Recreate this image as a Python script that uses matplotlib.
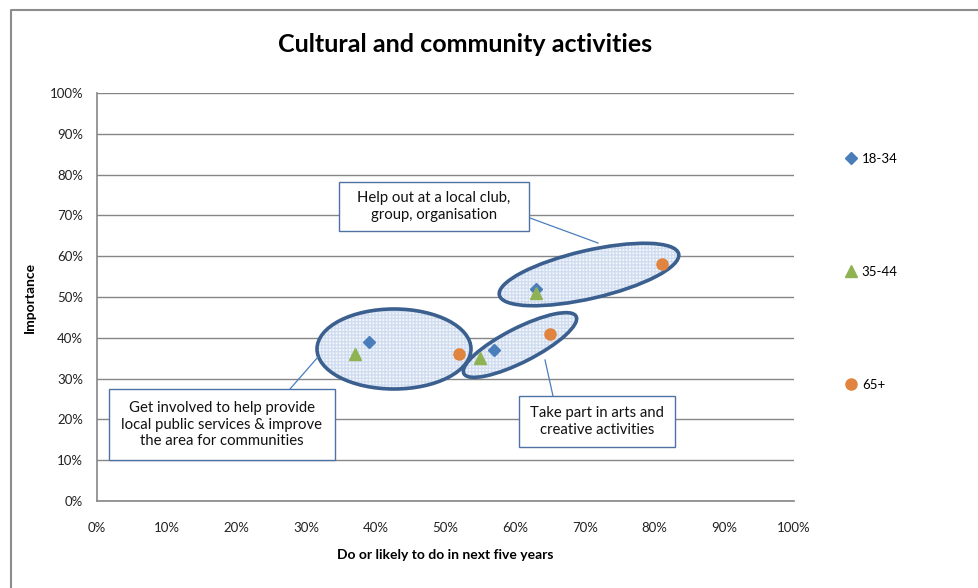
import matplotlib
matplotlib.use("Agg")
import matplotlib.pyplot as plt
from matplotlib import transforms
from matplotlib.patches import Ellipse, Rectangle
from matplotlib.lines import Line2D
from matplotlib.ticker import PercentFormatter

plt.rcParams['font.family'] = ['Lato', 'DejaVu Sans']

# data (fractions)
series_names = ['18-34', '35-44', '65+']
x_18_34 = [0.39, 0.57, 0.63]
y_18_34 = [0.39, 0.37, 0.52]
x_35_44 = [0.37, 0.55, 0.63]
y_35_44 = [0.36, 0.35, 0.51]
x_65 = [0.52, 0.65, 0.81]
y_65 = [0.36, 0.41, 0.58]

callout_texts = [
    "Help out at a local club,\ngroup, organisation",
    "Get involved to help provide\nlocal public services & improve\nthe area for communities",
    "Take part in arts and\ncreative activities",
]

W, H = 979, 588
fig = plt.figure(figsize=(W / 100, H / 100), dpi=100)
ax = fig.add_axes([97 / W, (H - 501) / H, 697 / W, 408 / H])

# pixel coords, origin top-left
px = transforms.Affine2D().scale(1 / W, -1 / H).translate(0, 1) + fig.transFigure

grey = '#868686'
ax.set_xlim(0, 1)
ax.set_ylim(0, 1)
ax.set_xticks([i / 10 for i in range(11)])
ax.set_yticks([i / 10 for i in range(11)])
ax.xaxis.set_major_formatter(PercentFormatter(1.0, decimals=0))
ax.yaxis.set_major_formatter(PercentFormatter(1.0, decimals=0))
ax.tick_params(length=0, labelsize=9.5, colors='#222222', pad=10)
ax.tick_params(axis='x', pad=15)
ax.grid(axis='y', color=grey, lw=1, zorder=0)
ax.set_axisbelow(True)
for s in ['top', 'right']:
    ax.spines[s].set_visible(False)
for s in ['left', 'bottom']:
    ax.spines[s].set_color(grey)
    ax.spines[s].set_linewidth(1.2)

# ellipses (pixel space)
ellipses = [((589, 274.5), 184, 48, 13), ((394, 349), 154, 80, 0), ((520, 345), 126, 34, 27)]
for (cx, cy), w, h, ang in ellipses:
    ax.add_patch(Ellipse((cx, cy), w, h, angle=-ang, transform=px, facecolor='#f4f7fc',
                         edgecolor='#d0dcef', hatch='+++++', lw=0, zorder=1, clip_on=False))
    ax.add_patch(Ellipse((cx, cy), w, h, angle=-ang, transform=px, fill=False,
                         edgecolor='#3b5f8f', lw=2.6, zorder=2, clip_on=False))

# callout boxes
boxes = [(339, 182, 190, 49), (109, 389, 226, 71), (519, 396, 156, 51)]
leaders = [((530, 218), (598, 243)), ((290, 389), (318, 357)), ((553, 396), (545, 360))]
for (bx, by, bw, bh), txt, (p0, p1) in zip(boxes, callout_texts, leaders):
    ax.add_patch(Rectangle((bx, by), bw, bh, transform=px, facecolor='white',
                           edgecolor='#4f72a6', lw=1, zorder=3, clip_on=False))
    ax.text(bx + bw / 2, by + bh / 2, txt, transform=px, ha='center', va='center',
            fontsize=10.7, linespacing=1.25, color='#111111', zorder=4)
    ax.add_line(Line2D([p0[0], p1[0]], [p0[1], p1[1]], transform=px, color='#4a7ebb',
                       lw=0.9, zorder=3, clip_on=False))

# data series
l1, = ax.plot(x_18_34, y_18_34, 'D', color='#4a7ebb', ms=6.5, ls='none', zorder=5, label=series_names[0])
l2, = ax.plot(x_35_44, y_35_44, '^', color='#8fb253', ms=8.5, ls='none', zorder=6, label=series_names[1])
l3, = ax.plot(x_65, y_65, 'o', color='#e0843f', ms=8, ls='none', zorder=7, label=series_names[2])
for l in (l1, l2, l3):
    l.set_clip_on(False)

# chart border
fig.lines.append(Line2D([11, 11, W + 5], [H + 5, 10, 10], transform=px, color='#8c8c8c', lw=1.5))

fig.text(465, 44, "Cultural and community activities", transform=px, ha='center', va='center',
         fontsize=18, fontweight='bold')
fig.text(30, 297, "Importance", transform=px, ha='center', va='center', rotation=90,
         fontsize=10, fontweight='bold')
fig.text(445, 555, "Do or likely to do in next five years", transform=px, ha='center', va='center',
         fontsize=10, fontweight='bold')

fig.legend(handles=[l1, l2, l3], loc='upper left', bbox_to_anchor=(846 / W, 1 - 153 / H),
           frameon=False, fontsize=9.5, labelspacing=7.64, handlelength=0.8, handletextpad=0.4,
           borderaxespad=0, borderpad=0)

fig.savefig("out.png", dpi=100)
